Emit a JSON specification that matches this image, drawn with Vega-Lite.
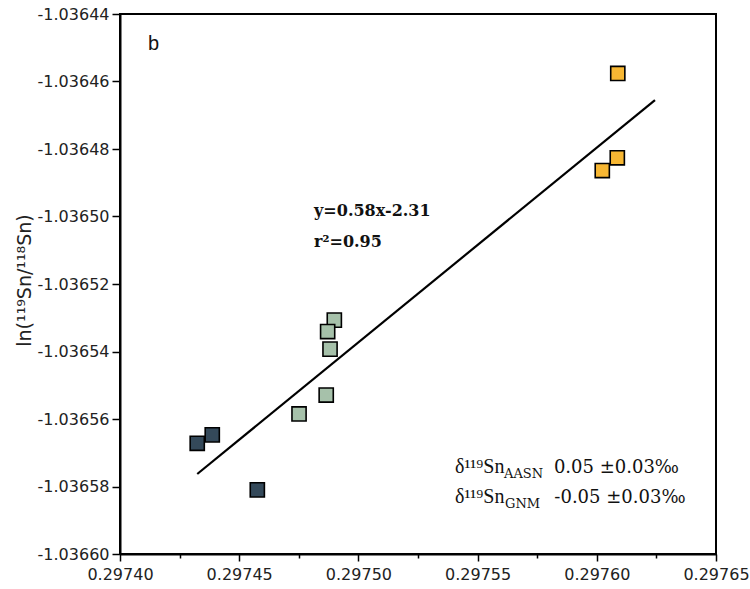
{
  "$schema": "https://vega.github.io/schema/vega-lite/v6.json",
  "width": 596,
  "height": 540,
  "autosize": {"type": "none"},
  "padding": {"left": 120, "top": 14, "right": 34, "bottom": 35},
  "background": "white",
  "config": {
    "view": {"stroke": "black", "strokeWidth": 2},
    "axis": {
      "grid": false,
      "domainColor": "black",
      "domainWidth": 2,
      "tickColor": "black",
      "tickWidth": 1.5,
      "labelFont": "DejaVu Sans",
      "labelFontSize": 16,
      "labelColor": "#222",
      "titleFont": "DejaVu Sans",
      "titleFontWeight": "normal",
      "titleColor": "#222"
    }
  },
  "datasets": {
    "points": [
      {"x": 0.2974324, "y": -1.0365672, "group": "Group 1"},
      {"x": 0.2974387, "y": -1.0365647, "group": "Group 1"},
      {"x": 0.2974576, "y": -1.036581, "group": "Group 1"},
      {"x": 0.2974899, "y": -1.0365307, "group": "Group 2"},
      {"x": 0.2974871, "y": -1.0365341, "group": "Group 2"},
      {"x": 0.2974881, "y": -1.0365393, "group": "Group 2"},
      {"x": 0.2974865, "y": -1.0365529, "group": "Group 2"},
      {"x": 0.2974751, "y": -1.0365585, "group": "Group 2"},
      {"x": 0.2976088, "y": -1.0364576, "group": "Group 3"},
      {"x": 0.2976086, "y": -1.0364826, "group": "Group 3"},
      {"x": 0.2976023, "y": -1.0364864, "group": "Group 3"}
    ],
    "fit": [
      {"x": 0.2974324, "y": -1.0365763},
      {"x": 0.2976244, "y": -1.0364655}
    ],
    "panel": [
      {"x": 0.2974117, "y": -1.0364507, "text": "b"}
    ],
    "equation": [
      {"x": 0.2974814, "y": -1.0364999, "text": "y=0.58x-2.31"},
      {"x": 0.2974814, "y": -1.036509, "text": "r²=0.95"}
    ],
    "delta": [
      {"x": 0.2975405, "y": -1.036576, "text": "δ¹¹⁹Sn"},
      {"x": 0.2975405, "y": -1.0365849, "text": "δ¹¹⁹Sn"}
    ],
    "values": [
      {"x": 0.297582, "y": -1.036576, "text": "0.05 ±0.03‰"},
      {"x": 0.2975822, "y": -1.0365849, "text": "-0.05 ±0.03‰"}
    ],
    "subs": [
      {"x": 0.2975611, "y": -1.0365775, "text": "AASN"},
      {"x": 0.2975615, "y": -1.0365864, "text": "GNM"}
    ]
  },
  "layer": [
    {
      "data": {"name": "fit"},
      "mark": {"type": "line", "color": "black", "strokeWidth": 2.2},
      "encoding": {
        "x": {
          "field": "x", "type": "quantitative",
          "scale": {"domain": [0.2974, 0.29765], "nice": false, "zero": false},
          "axis": {
            "title": null,
            "values": [0.2974, 0.297425, 0.29745, 0.297475, 0.2975, 0.297525, 0.29755, 0.297575, 0.2976, 0.297625, 0.29765],
            "format": ".5f",
            "labelExpr": "abs(round(datum.value / 0.00005) * 0.00005 - datum.value) < 1e-9 ? replace(datum.label, '−', '-') : ''",
            "tickSize": {"condition": {"test": "abs(round(datum.value / 0.00005) * 0.00005 - datum.value) < 1e-9", "value": 7}, "value": 4},
            "labelPadding": 5,
            "labelFlush": false,
            "labelOverlap": false
          }
        },
        "y": {
          "field": "y", "type": "quantitative",
          "scale": {"domain": [-1.0366, -1.03644], "nice": false, "zero": false},
          "axis": {
            "title": "ln(¹¹⁹Sn/¹¹⁸Sn)",
            "titleFontSize": 19,
            "titleX": -86,
            "titleY": 266,
            "values": [-1.03644, -1.03645, -1.03646, -1.03647, -1.03648, -1.03649, -1.0365, -1.03651, -1.03652, -1.03653, -1.03654, -1.03655, -1.03656, -1.03657, -1.03658, -1.03659, -1.0366],
            "format": ".5f",
            "labelExpr": "abs(round(datum.value / 0.00002) * 0.00002 - datum.value) < 1e-9 ? replace(datum.label, '−', '-') : ''",
            "tickSize": {"condition": {"test": "abs(round(datum.value / 0.00002) * 0.00002 - datum.value) < 1e-9", "value": 8}, "value": 4},
            "labelPadding": 3,
            "labelFlush": false,
            "labelOverlap": false
          }
        }
      }
    },
    {
      "data": {"name": "points"},
      "mark": {"type": "square", "filled": true, "size": 200, "stroke": "black", "strokeWidth": 1.6, "opacity": 1},
      "encoding": {
        "x": {"field": "x", "type": "quantitative"},
        "y": {"field": "y", "type": "quantitative"},
        "fill": {
          "field": "group", "type": "nominal",
          "scale": {"domain": ["Group 1", "Group 2", "Group 3"], "range": ["#34495a", "#a6c1aa", "#f7b733"]},
          "legend": null
        }
      }
    },
    {
      "data": {"name": "panel"},
      "mark": {"type": "text", "font": "Liberation Sans", "fontSize": 20, "align": "left", "baseline": "alphabetic", "color": "#111"},
      "encoding": {
        "x": {"field": "x", "type": "quantitative"},
        "y": {"field": "y", "type": "quantitative"},
        "text": {"field": "text"}
      }
    },
    {
      "data": {"name": "equation"},
      "mark": {"type": "text", "font": "DejaVu Serif", "fontSize": 16, "fontWeight": "bold", "align": "left", "baseline": "alphabetic", "color": "#111"},
      "encoding": {
        "x": {"field": "x", "type": "quantitative"},
        "y": {"field": "y", "type": "quantitative"},
        "text": {"field": "text"}
      }
    },
    {
      "data": {"name": "delta"},
      "mark": {"type": "text", "font": "Liberation Serif", "fontSize": 20, "align": "left", "baseline": "alphabetic", "color": "#111"},
      "encoding": {
        "x": {"field": "x", "type": "quantitative"},
        "y": {"field": "y", "type": "quantitative"},
        "text": {"field": "text"}
      }
    },
    {
      "data": {"name": "values"},
      "mark": {"type": "text", "font": "DejaVu Serif", "fontSize": 18, "align": "left", "baseline": "alphabetic", "color": "#111"},
      "encoding": {
        "x": {"field": "x", "type": "quantitative"},
        "y": {"field": "y", "type": "quantitative"},
        "text": {"field": "text"}
      }
    },
    {
      "data": {"name": "subs"},
      "mark": {"type": "text", "font": "DejaVu Serif", "fontSize": 13, "align": "left", "baseline": "alphabetic", "color": "#111"},
      "encoding": {
        "x": {"field": "x", "type": "quantitative"},
        "y": {"field": "y", "type": "quantitative"},
        "text": {"field": "text"}
      }
    }
  ]
}
